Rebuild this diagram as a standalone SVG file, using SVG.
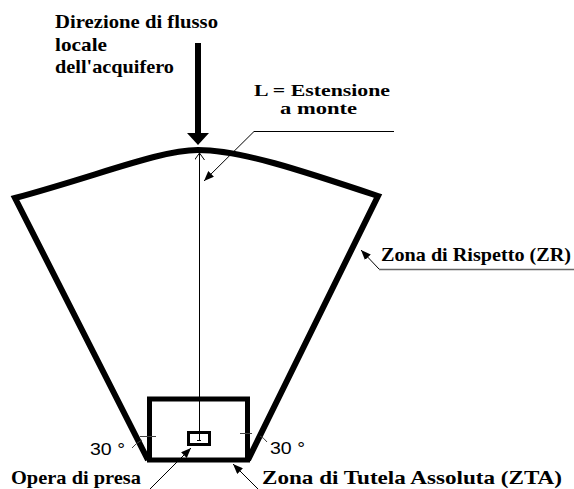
<svg xmlns="http://www.w3.org/2000/svg" width="574" height="489" viewBox="0 0 574 489">
<style>
.lbl{font-family:'Liberation Serif','DejaVu Serif','Times New Roman',Times,serif;font-weight:bold;font-size:19px;fill:#000}
.sm{font-size:17px}
.ang{font-family:'Liberation Sans','DejaVu Sans',sans-serif;font-size:17px;fill:#000}
.thick{fill:none;stroke:#000;stroke-width:6;stroke-linejoin:miter}
.zta{fill:none;stroke:#000;stroke-width:5}
.thin{fill:none;stroke:#000;stroke-width:1}
.tick{fill:none;stroke:#444;stroke-width:1}
</style>
<defs>
<marker id="tri" viewBox="0 0 10 8" refX="10" refY="4" markerWidth="10" markerHeight="8" markerUnits="userSpaceOnUse" orient="auto">
<path d="M0,0 L10,4 L0,8 z" fill="#000"/>
</marker>
<marker id="chev" viewBox="0 0 8 10" refX="7" refY="5" markerWidth="8" markerHeight="10" markerUnits="userSpaceOnUse" orient="auto">
<path d="M0,0 L7,5 L0,10" fill="none" stroke="#000" stroke-width="1"/>
</marker>
</defs>
<rect width="574" height="489" fill="#fff"/>

<g id="zona-rispetto">
<path class="thick" d="M148,460 L15,198 C100,175 160,150 198,150 C240,150 300,170 378,196 L248,460"/>
</g>

<g id="zona-tutela-assoluta">
<rect class="zta" x="149.5" y="399" width="98" height="61"/>
</g>

<g id="opera-di-presa">
<rect fill="none" stroke="#000" stroke-width="3" x="188.5" y="432.5" width="21" height="12"/>
<line class="thin" x1="197" y1="440.5" x2="201" y2="440.5"/>
</g>

<g id="flusso">
<rect x="195" y="43" width="6" height="91" fill="#000"/>
<polygon points="187,133 209,133 198,145" fill="#000"/>
</g>

<g id="angoli">
<line class="tick" x1="140" y1="436.5" x2="156" y2="436.5"/>
<path class="tick" d="M132,448 Q136,443 142,440"/>
<line class="tick" x1="240" y1="433.5" x2="252" y2="433.5"/>
<path class="tick" d="M260,436 Q264,438 267,442"/>
<text class="ang" x="90" y="455" textLength="35" lengthAdjust="spacingAndGlyphs">30 °</text>
<text class="ang" x="270" y="454" textLength="35" lengthAdjust="spacingAndGlyphs">30 °</text>
</g>

<g id="connectors">
<line class="thin" x1="199.5" y1="440" x2="199.5" y2="153" marker-end="url(#chev)"/>
<polyline class="thin" points="394,131.5 254,131.5 204,181" marker-end="url(#tri)"/>
<line x1="379" y1="269.5" x2="574" y2="269.5" stroke="#666" stroke-width="1.5"/>
<line class="thin" x1="379" y1="269" x2="361" y2="250" marker-end="url(#tri)"/>
<line class="thin" x1="150" y1="489" x2="191" y2="448" marker-end="url(#tri)"/>
<line class="thin" x1="258" y1="489" x2="233" y2="464" marker-end="url(#tri)"/>
</g>

<g id="labels">
<text class="lbl" x="55" y="28" textLength="163" lengthAdjust="spacingAndGlyphs">Direzione di flusso</text>
<text class="lbl" x="55" y="51" textLength="52" lengthAdjust="spacingAndGlyphs">locale</text>
<text class="lbl" x="55" y="73" textLength="119" lengthAdjust="spacingAndGlyphs">dell'acquifero</text>
<text class="lbl sm" x="254" y="96" textLength="136" lengthAdjust="spacingAndGlyphs">L = Estensione</text>
<text class="lbl sm" x="280" y="114" textLength="77" lengthAdjust="spacingAndGlyphs">a monte</text>
<text class="lbl" x="381" y="261" textLength="190" lengthAdjust="spacingAndGlyphs">Zona di Rispetto (ZR)</text>
<text class="lbl" x="11" y="484" textLength="130" lengthAdjust="spacingAndGlyphs">Opera di presa</text>
<text class="lbl" x="262" y="484" textLength="300" lengthAdjust="spacingAndGlyphs">Zona di Tutela Assoluta (ZTA)</text>
</g>
</svg>
